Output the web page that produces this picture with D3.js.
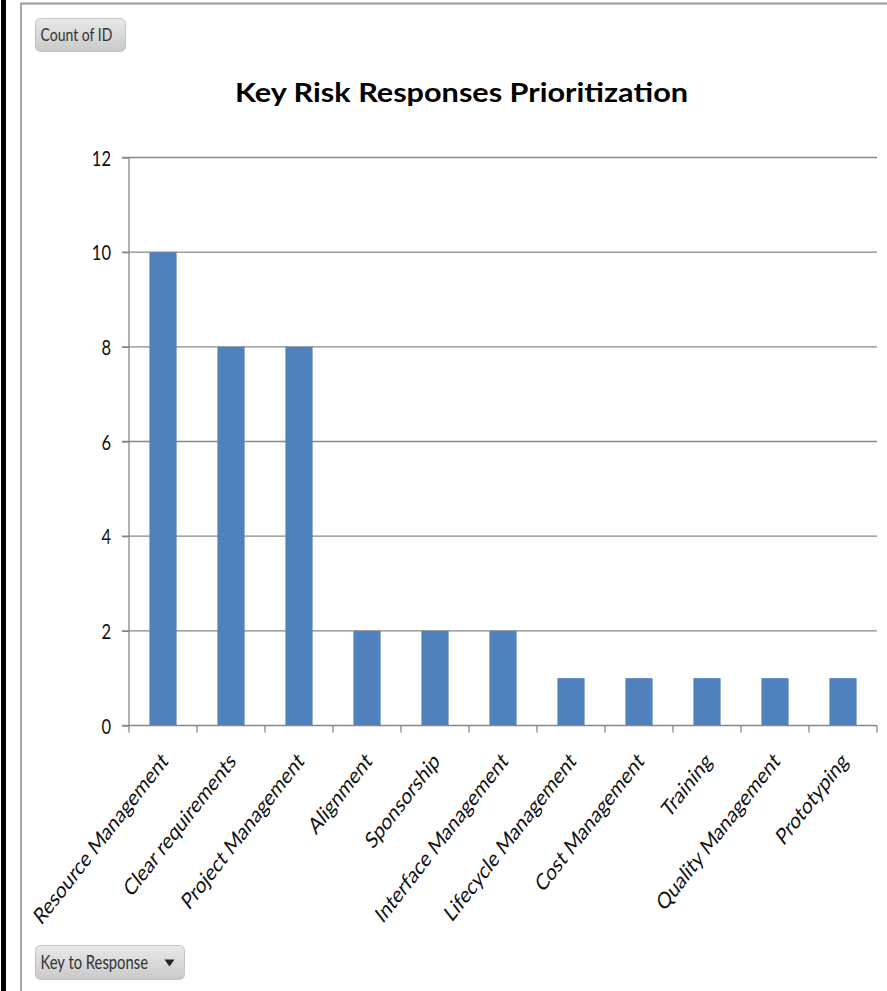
<!DOCTYPE html>
<html>
<head>
<meta charset="utf-8">
<script src="https://cdn.jsdelivr.net/npm/d3@7"></script>
<style>
  html, body { margin: 0; padding: 0; background: #fff; }
  svg { display: block; }
  text { font-family: Lato, "Open Sans", sans-serif; }
</style>
</head>
<body>
<svg id="chart" width="887" height="991"></svg>
<script>
// Responses and how many risks each one addresses
const categories = [
  "Resource Management", "Clear requirements", "Project Management",
  "Alignment", "Sponsorship", "Interface Management",
  "Lifecycle Management", "Cost Management", "Training",
  "Quality Management", "Prototyping"
];
const counts = [10, 8, 8, 2, 2, 2, 1, 1, 1, 1, 1];
const yTicks = [0, 2, 4, 6, 8, 10, 12];

const title = "Key Risk Responses Prioritization";
const valueButton = "Count of ID";
const axisButton = "Key to Response";

const svg = d3.select("#chart");
const W = 887, H = 991;
const plot = { left: 129, right: 877, top: 157.5, bottom: 725.5 };
const tall = 1.28; // small text is drawn slightly tall and narrow

// Page frame: dark bar on the left, thin gray frame of the chart area
svg.append("rect").attr("x", 0).attr("y", 0).attr("width", W).attr("height", H).attr("fill", "#fff");
svg.append("rect").attr("x", 1).attr("y", 0).attr("width", 5).attr("height", H).attr("fill", "#000");
svg.append("line").attr("x1", 21).attr("x2", 21).attr("y1", 3).attr("y2", H)
  .attr("stroke", "#a6a6a6").attr("stroke-width", 2);
svg.append("line").attr("x1", 21).attr("x2", W).attr("y1", 3.5).attr("y2", 3.5)
  .attr("stroke", "#9a9a9a").attr("stroke-width", 2);

// Gradient for the field buttons
const defs = svg.append("defs");
const grad = defs.append("linearGradient").attr("id", "btn").attr("x1", 0).attr("y1", 0).attr("x2", 0).attr("y2", 1);
grad.append("stop").attr("offset", "0%").attr("stop-color", "#e9e9e9");
grad.append("stop").attr("offset", "100%").attr("stop-color", "#c9c9c9");

function fieldButton(x, y, w, h, label, fs, withArrow) {
  const g = svg.append("g").attr("transform", `translate(${x},${y})`);
  g.append("rect").attr("width", w).attr("height", h).attr("rx", 5).attr("ry", 5)
    .attr("fill", "url(#btn)").attr("stroke", "#c4c4c4").attr("stroke-width", 1);
  g.append("text").attr("transform", `translate(5,${h / 2}) scale(1,${tall})`)
    .attr("dy", "0.36em")
    .attr("font-size", fs).attr("fill", "#333").text(label);
  if (withArrow) {
    const ax = w - 15, ay = h / 2;
    g.append("path").attr("d", `M${ax - 5},${ay - 3}L${ax + 5},${ay - 3}L${ax},${ay + 4}Z`).attr("fill", "#222");
  }
}
fieldButton(35.5, 18.5, 90, 33, valueButton, 14, false);
fieldButton(35.5, 945.5, 149, 34, axisButton, 14.8, true);

// Title
svg.append("text").attr("x", 461.5).attr("y", 102)
  .attr("text-anchor", "middle").attr("font-size", 26.5).attr("font-weight", 700)
  .attr("textLength", 453).attr("lengthAdjust", "spacingAndGlyphs")
  .attr("fill", "#000").text(title);

// Scales
const x = d3.scaleBand().domain(categories).range([plot.left, plot.right]).paddingInner(0.6).paddingOuter(0.3);
const y = d3.scaleLinear().domain([0, 12]).range([plot.bottom, plot.top]);

// Horizontal gridlines
svg.append("g").selectAll("line").data(yTicks.filter(d => d > 0)).join("line")
  .attr("x1", plot.left - 7).attr("x2", plot.right)
  .attr("y1", d => y(d)).attr("y2", d => y(d))
  .attr("stroke", "#878787").attr("stroke-width", 1.3);

// Y axis
const yAxis = svg.append("g").attr("transform", `translate(${plot.left},0)`)
  .call(d3.axisLeft(y).tickValues(yTicks).tickSize(7).tickPadding(18));
yAxis.select(".domain").attr("stroke", "#878787").attr("stroke-width", 1.3).attr("d", `M0,${plot.top}V${plot.bottom}`);
yAxis.selectAll(".tick line").attr("stroke", "#878787").attr("stroke-width", 1.3);
yAxis.selectAll(".tick text")
  .attr("x", null).attr("dy", null)
  .attr("transform", `translate(-18,0) scale(1,${tall})`)
  .attr("dy", "0.36em")
  .attr("font-size", 16.5).attr("fill", "#111")
  .style("font-family", "Lato, sans-serif");

// Bars
svg.append("g").selectAll("rect").data(categories).join("rect")
  .attr("x", d => x(d))
  .attr("width", x.bandwidth())
  .attr("y", (d, i) => y(counts[i]))
  .attr("height", (d, i) => y(0) - y(counts[i]))
  .attr("fill", "#4f81bd");

// X axis with tick marks at category boundaries
const boundaries = d3.range(categories.length + 1).map(i => plot.left + i * (plot.right - plot.left) / categories.length);
const xg = svg.append("g");
xg.append("line").attr("x1", plot.left - 7).attr("x2", plot.right).attr("y1", y(0)).attr("y2", y(0))
  .attr("stroke", "#878787").attr("stroke-width", 1.3);
xg.selectAll("line.tk").data(boundaries).join("line").attr("class", "tk")
  .attr("x1", d => d).attr("x2", d => d).attr("y1", y(0)).attr("y2", y(0) + 7)
  .attr("stroke", "#878787").attr("stroke-width", 1.3);

// Rotated category labels
xg.selectAll("text").data(categories).join("text")
  .attr("transform", d => `translate(${x(d) + x.bandwidth() / 2 + 6},${y(0) + 37}) scale(1,${tall}) rotate(-45)`)
  .attr("text-anchor", "end")
  .attr("font-size", 18).attr("fill", "#111")
  .text(d => d);
</script>
</body>
</html>
